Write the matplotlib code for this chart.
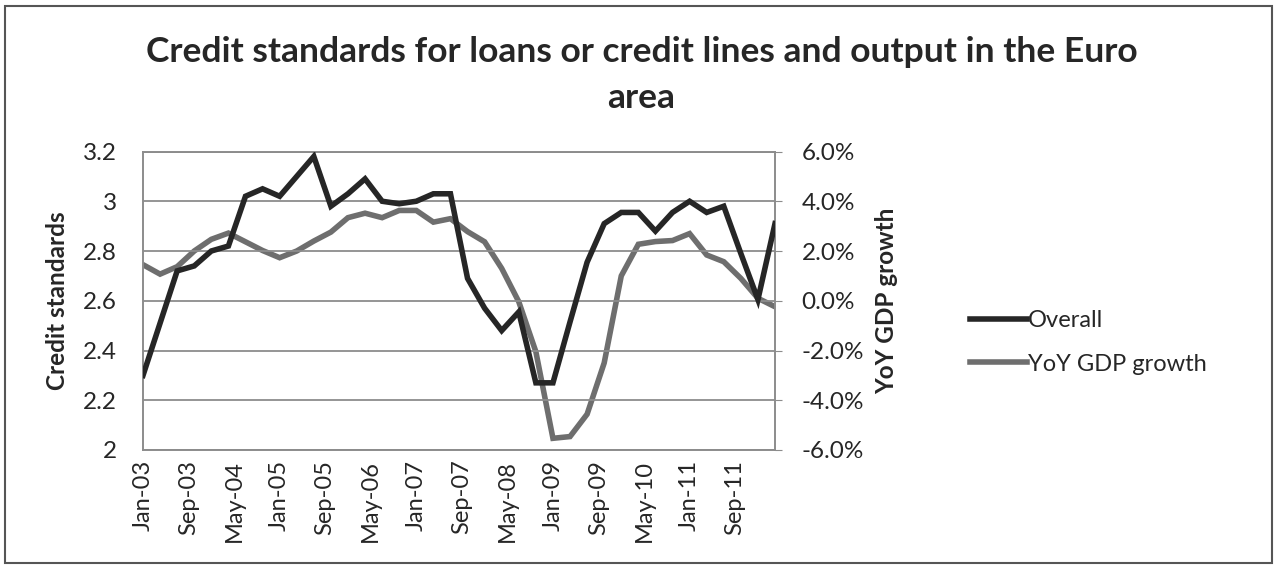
import numpy as np
import matplotlib.pyplot as plt
from matplotlib.ticker import FuncFormatter, MultipleLocator

plt.rcParams['font.family'] = ['Lato', 'DejaVu Sans']

# quarterly observations, Jan-03 .. Apr-12 (month offsets from Jan-03)
months = np.arange(0, 112, 3)

overall = [2.30, 2.51, 2.72, 2.74, 2.80, 2.82, 3.02, 3.05, 3.02, 3.10,
           3.18, 2.98, 3.03, 3.09, 3.00, 2.99, 3.00, 3.03, 3.03, 2.69,
           2.57, 2.48, 2.555, 2.27, 2.27, 2.515, 2.755, 2.91, 2.955, 2.955,
           2.88, 2.955, 3.00, 2.955, 2.98, 2.79, 2.605, 2.91]

gdp_growth = [1.45, 1.07, 1.37, 2.00, 2.47, 2.72, 2.37, 2.02, 1.73, 2.00,
              2.40, 2.76, 3.34, 3.52, 3.34, 3.63, 3.63, 3.16, 3.30, 2.78,
              2.37, 1.30, -0.04, -2.05, -5.53, -5.46, -4.56, -2.50, 1.00, 2.27,
              2.38, 2.42, 2.70, 1.84, 1.57, 0.90, 0.10, -0.24]

tick_months = np.arange(0, 112, 8)
tick_labels = ['Jan-03', 'Sep-03', 'May-04', 'Jan-05', 'Sep-05', 'May-06', 'Jan-07',
               'Sep-07', 'May-08', 'Jan-09', 'Sep-09', 'May-10', 'Jan-11', 'Sep-11']

title = 'Credit standards for loans or credit lines and output in the Euro\narea'

txt = '#262626'
grid_c = '#8c8c8c'

fig = plt.figure(figsize=(12.75, 5.65), dpi=100)
ax = fig.add_axes([143 / 1275, 115 / 565, 632 / 1275, 298.5 / 565])
ax2 = ax.twinx()

# gdp first so the overall line sits on top
ax2.plot(months, gdp_growth, color='#6e6e6e', lw=4.0, solid_joinstyle='miter',
         label='YoY GDP growth', zorder=2)
ax.plot(months, overall, color='#262626', lw=4.0, solid_joinstyle='miter',
        label='Overall', zorder=3)
ax.set_zorder(ax2.get_zorder() + 1)
ax.patch.set_visible(False)

ax.set_xlim(0, 111)
ax.set_ylim(2.0, 3.2)
ax.yaxis.set_major_locator(MultipleLocator(0.2))
ax.yaxis.set_major_formatter(FuncFormatter(lambda v, p: f'{v:g}'))
ax2.set_ylim(-6, 6)
ax2.yaxis.set_major_locator(MultipleLocator(2))
ax2.yaxis.set_major_formatter(FuncFormatter(lambda v, p: f'{v:.1f}%'))

ax.set_xticks(tick_months)
ax.set_xticklabels(tick_labels, rotation=90)
ax.grid(axis='y', color=grid_c, lw=1.3)

for a in (ax, ax2):
    for s in a.spines.values():
        s.set_color(grid_c)
        s.set_linewidth(1.2)
    a.tick_params(labelsize=17.5, colors=txt, length=0)
ax.tick_params(axis='y', pad=19)
ax.tick_params(axis='x', pad=7, labelsize=17)
ax2.tick_params(axis='y', length=5, direction='out', color=grid_c, pad=14)

ax.set_ylabel('Credit standards', fontsize=17.5, fontweight='bold', color=txt, labelpad=10)
ax2.set_ylabel('YoY GDP growth', fontsize=17.5, fontweight='bold', color=txt, labelpad=8)

fig.text(0.503, 0.867, title, ha='center', va='center', fontsize=25.5,
         fontweight='bold', color=txt, linespacing=1.55)

h1, l1 = ax.get_legend_handles_labels()
h2, l2 = ax2.get_legend_handles_labels()
fig.legend(h1 + h2, l1 + l2, loc='center left', bbox_to_anchor=(0.744, 0.394),
           frameon=False, fontsize=17, handlelength=2.4, handletextpad=0.05,
           labelspacing=0.95, labelcolor=txt)

fig.patches.append(plt.Rectangle((5 / 1275, 2 / 565), 1267 / 1275, 557 / 565,
                                 transform=fig.transFigure, fill=False,
                                 edgecolor='#555555', lw=1.5))

fig.savefig('out.png', dpi=100)
